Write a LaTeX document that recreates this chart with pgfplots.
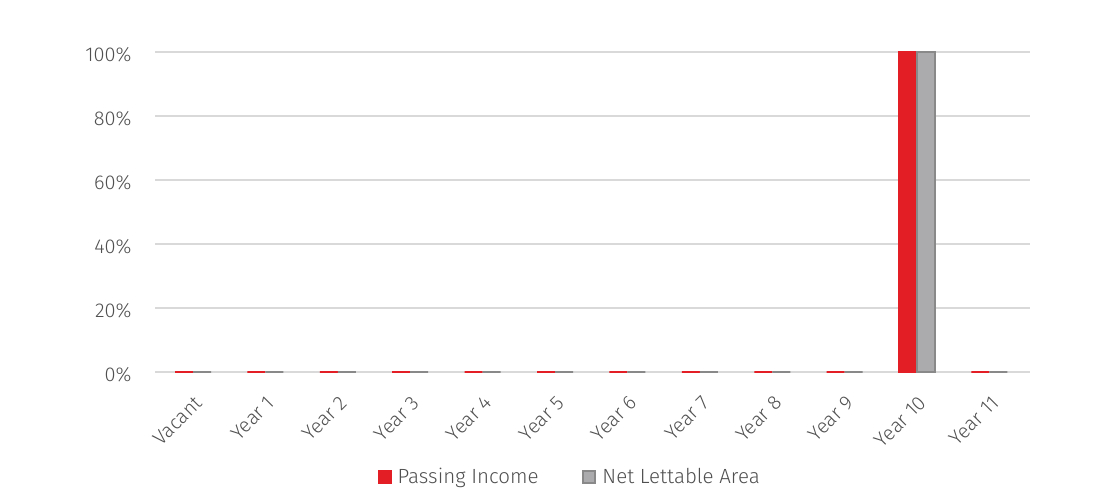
\documentclass[border=0pt]{standalone}
\usepackage{fontspec}
\setmainfont{Fira Sans Light}
\usepackage{pgfplots}
\pgfplotsset{compat=1.18}
\definecolor{barred}{RGB}{227,30,36}
\definecolor{bargrey}{RGB}{171,171,173}
\definecolor{txt}{RGB}{80,80,80}
\definecolor{gridc}{RGB}{217,217,217}
\begin{document}
\begin{tikzpicture}
\path[use as bounding box] (0,0) rectangle (1098bp,503bp);
\begin{axis}[
  scale only axis,
  width=875bp, height=320bp,
  at={(155bp,131bp)}, anchor=south west,
  xmin=-0.525, xmax=11.56,
  ymin=0, ymax=100,
  ybar, bar width=18bp,
  xtick=data,
  xticklabels={Vacant,Year 1,Year 2,Year 3,Year 4,Year 5,Year 6,Year 7,Year 8,Year 9,Year 10,Year 11},
  ytick={0,20,40,60,80,100},
  yticklabel={\pgfmathprintnumber{\tick}\%},
  /pgf/number format/assume math mode=true,
  tick style={draw=none},
  ymajorgrids,
  grid style={gridc, line width=1.6bp},
  axis line style={draw=none},
  ticklabel style={font=\fontsize{20bp}{24bp}\selectfont, text=txt},
  xticklabel style={rotate=45, anchor=north east, xshift=-9bp, yshift=-10bp},
  yticklabel style={xshift=-20bp, yshift=-3bp},
  legend style={draw=none, at={(0.474,-0.328)}, anchor=center, legend columns=2,
    font=\fontsize{20.5bp}{24bp}\selectfont, text=txt,
    /tikz/every odd column/.append style={column sep=4bp},
    /tikz/every even column/.append style={column sep=42bp}},
  legend image code/.code={\fill[#1] (0bp,-6bp) rectangle (12bp,6bp);},
  clip=false,
]
\addplot[fill=barred, draw=barred, line width=2bp, bar shift=-9bp] coordinates {
(0,0) (1,0) (2,0) (3,0) (4,0) (5,0) (6,0) (7,0) (8,0) (9,0) (10,100) (11,0)};
\addplot[fill=bargrey, draw=bargrey!80!black, line width=2bp, bar shift=9bp] coordinates {
(0,0) (1,0) (2,0) (3,0) (4,0) (5,0) (6,0) (7,0) (8,0) (9,0) (10,100) (11,0)};
\legend{Passing Income, Net Lettable Area}
\end{axis}
\end{tikzpicture}
\end{document}
